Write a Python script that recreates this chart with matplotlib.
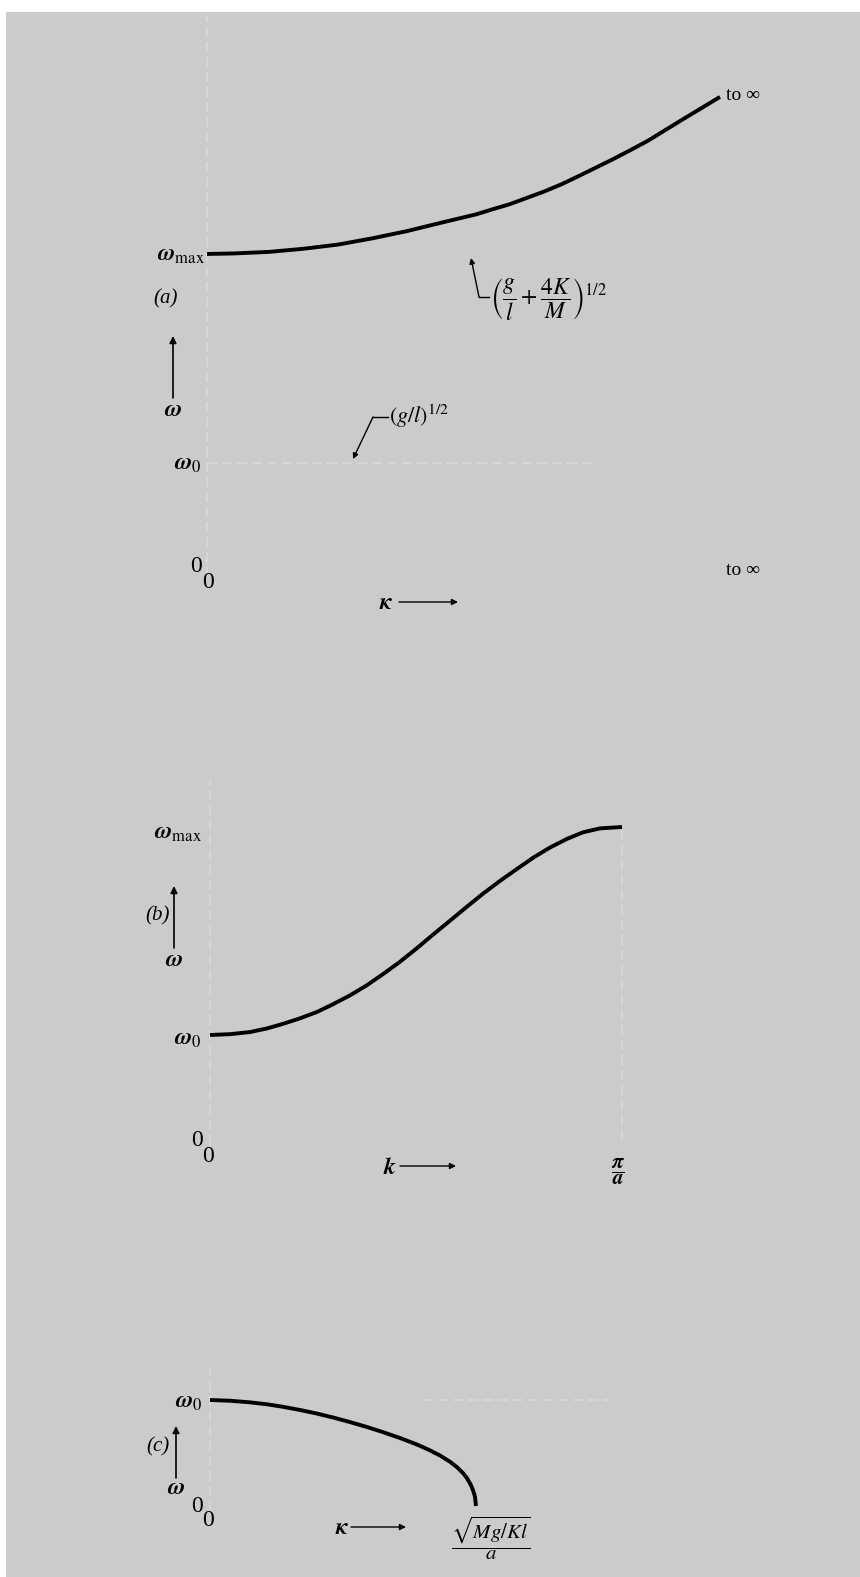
import matplotlib
matplotlib.use("Agg")
import matplotlib.pyplot as plt
from matplotlib.patches import Rectangle, FancyArrowPatch
from matplotlib.lines import Line2D

plt.rcParams['font.family'] = ['Liberation Serif', 'DejaVu Serif']
plt.rcParams['mathtext.fontset'] = 'stix'

# === data (omega in units of omega_0) ===
# (a) region above omega_max, kappa in arbitrary units
kappa_a = [0.0, 0.053, 0.121, 0.188, 0.255, 0.322, 0.390, 0.456, 0.524, 0.557, 0.591, 0.624,
           0.657, 0.691, 0.725, 0.758, 0.791, 0.826, 0.860, 0.893, 0.926, 0.963, 1.0]
omega_a = [3.01, 3.015, 3.03, 3.06, 3.10, 3.16, 3.23, 3.31, 3.39, 3.44, 3.49, 3.55,
           3.61, 3.68, 3.76, 3.84, 3.92, 4.01, 4.10, 4.20, 4.30, 4.41, 4.52]

# (b) passband, k in units of pi/a
k_b = [0.0, 0.049, 0.097, 0.138, 0.177, 0.218, 0.260, 0.299, 0.340, 0.380, 0.420, 0.461, 0.502,
       0.542, 0.583, 0.623, 0.663, 0.704, 0.746, 0.785, 0.825, 0.866, 0.905, 0.947, 1.0]
omega_b = [1.0, 1.008, 1.028, 1.062, 1.106, 1.158, 1.220, 1.294, 1.378, 1.472, 1.580, 1.697, 1.826,
           1.958, 2.090, 2.220, 2.347, 2.468, 2.584, 2.690, 2.785, 2.867, 2.930, 2.968, 2.981]

# (c) region below omega_0, kappa in units of sqrt(Mg/Kl)/a
kappa_c = [0.0, 0.075, 0.150, 0.213, 0.274, 0.338, 0.402, 0.464, 0.526, 0.589, 0.650, 0.714,
           0.778, 0.821, 0.865, 0.902, 0.929, 0.952, 0.966, 0.980, 0.989, 0.996, 1.0]
omega_c = [1.0, 0.993, 0.978, 0.960, 0.936, 0.906, 0.872, 0.834, 0.792, 0.746, 0.697, 0.642,
           0.580, 0.532, 0.476, 0.418, 0.365, 0.308, 0.263, 0.202, 0.148, 0.090, 0.0]

W, H = 860, 1577
BG = "#cbcbcb"
GUIDE = "#d9d9d9"

fig = plt.figure(figsize=(W / 100, H / 100), dpi=100)
fig.patch.set_facecolor("white")
fig.patches.append(Rectangle((6 / W, 0), 1 - 6 / W, 1 - 12 / H,
                             transform=fig.transFigure, facecolor=BG,
                             edgecolor="none", zorder=-10))


def fx(x):
    return x / W


def fy(y):
    return 1 - y / H


def make_panel(box, px_left, px_zero, px_x, px_y):
    l, t, r, b = box
    ax = fig.add_axes([fx(l), fy(b), (r - l) / W, (b - t) / H])
    ax.set_xlim((l - px_left) / px_x, (r - px_left) / px_x)
    ax.set_ylim((px_zero - b) / px_y, (px_zero - t) / px_y)
    ax.axis("off")
    ax.patch.set_alpha(0)
    return ax


def label(x, y, s, size=15, ha="center", va="center", **kw):
    fig.text(fx(x), fy(y), s, fontsize=size, ha=ha, va=va, **kw)


def arrow(x1, y1, x2, y2, lw=1.2, head=10):
    fig.add_artist(FancyArrowPatch((fx(x1), fy(y1)), (fx(x2), fy(y2)),
                                   transform=fig.transFigure,
                                   arrowstyle="-|>", mutation_scale=head,
                                   color="black", lw=lw, shrinkA=0, shrinkB=0))


def seg(xs, ys, lw=1.0):
    fig.add_artist(Line2D([fx(x) for x in xs], [fy(y) for y in ys],
                          transform=fig.transFigure, color="black", lw=lw))


W_MAX = r"$\boldsymbol{\omega}_{\mathrm{max}}$"
W_0 = r"$\boldsymbol{\omega}_{0}$"
W_ = r"$\boldsymbol{\omega}$"
guide = dict(color=GUIDE, lw=1.2, ls=(0, (6, 3)))

# ---------- (a) ----------
ax_a = make_panel((150, 15, 800, 620), 207, 567, 513, 104)
ax_a.plot([0, 0], [-0.1, 5.3], **guide)
ax_a.plot([0, 0.75], [1, 1], **guide)
ax_a.plot(kappa_a, omega_a, color="black", lw=2.8, solid_capstyle="butt")

label(205, 255, W_MAX, size=17, ha="right")
label(726, 95, "to ∞", size=14, ha="left")
label(166, 299, "(a)", size=15, style="italic")
arrow(173, 398, 173, 336)
label(173, 410, W_, size=17)
label(389, 416, r"$(g/l)^{1/2}$", size=16, ha="left")
seg([388, 373], [417, 417])
arrow(373, 417, 353, 459, lw=1.0, head=8)
label(202, 464, W_0, size=17, ha="right")
label(196, 567, "0", size=17)
label(208, 582, "0", size=17)
label(386, 604, r"$\boldsymbol{\kappa}$", size=17)
arrow(399, 602, 458, 602, lw=1.0, head=9)
label(726, 570, "to ∞", size=14, ha="left")
label(490, 299, r"$\left(\dfrac{g}{l}+\dfrac{4K}{M}\right)^{1/2}$", size=17, ha="left")
arrow(479, 297, 471, 258, lw=1.0, head=8)
seg([479, 489], [297, 297])

# ---------- (b) ----------
ax_b = make_panel((150, 780, 700, 1200), 210, 1140, 412, 105)
ax_b.plot([0, 0], [-0.05, 3.5], **guide)
ax_b.plot([1, 1], [0, 2.98], **guide)
ax_b.plot(k_b, omega_b, color="black", lw=2.8, solid_capstyle="butt")

label(202, 833, W_MAX, size=17, ha="right")
label(158, 916, "(b)", size=15, style="italic")
arrow(174, 948, 174, 886)
label(174, 961, W_, size=17)
label(202, 1040, W_0, size=17, ha="right")
label(197, 1140, "0", size=17)
label(208, 1156, "0", size=17)
label(390, 1168, r"$\boldsymbol{k}$", size=17)
arrow(400, 1166, 456, 1166, lw=1.0, head=9)
label(618, 1172, r"$\dfrac{\boldsymbol{\pi}}{\boldsymbol{a}}$", size=15)

# ---------- (c) ----------
ax_c = make_panel((150, 1350, 640, 1577), 210, 1506, 266, 106)
ax_c.plot([0, 0], [-0.05, 1.3], **guide)
ax_c.plot([0.8, 1.5], [1, 1], **guide)
ax_c.plot(kappa_c, omega_c, color="black", lw=2.8, solid_capstyle="butt")

label(203, 1403, W_0, size=17, ha="right")
label(158, 1447, "(c)", size=15, style="italic")
arrow(176, 1478, 176, 1426)
label(176, 1488, W_, size=17)
label(197, 1507, "0", size=17)
label(208, 1520, "0", size=17)
label(342, 1529, r"$\boldsymbol{\kappa}$", size=17)
arrow(351, 1527, 406, 1527, lw=1.0, head=9)
label(491, 1538, r"$\dfrac{\sqrt{Mg/Kl}}{a}$", size=15)

fig.savefig("out.png", dpi=100, facecolor=fig.get_facecolor())
